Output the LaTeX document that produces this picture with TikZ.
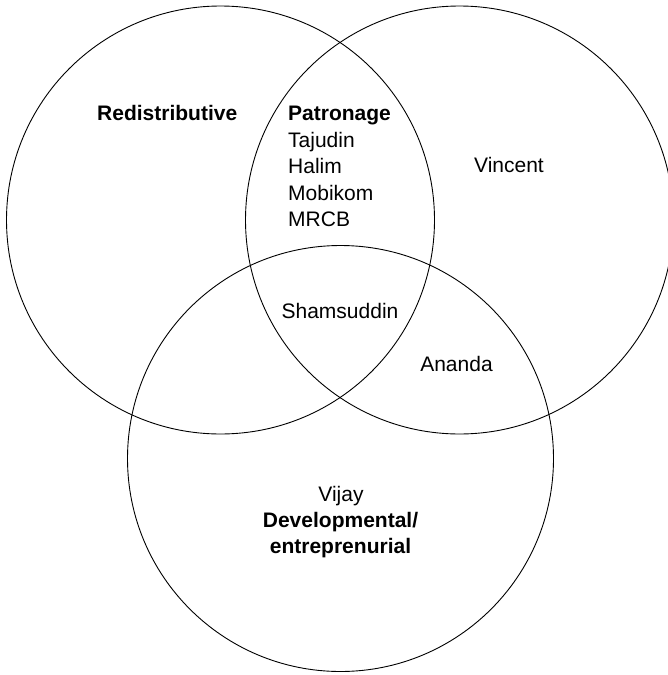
\documentclass[tikz,border=0pt]{standalone}
\usepackage{fontspec}
\setmainfont{Liberation Sans}
\begin{document}
\begin{tikzpicture}[x=1pt,y=-1pt,
  ring/.style={circle,draw,line width=0.9pt,minimum size=428pt,inner sep=0pt},
  lbl/.style={font=\fontsize{21}{26}\selectfont,inner sep=0pt},
  blbl/.style={font=\fontsize{21}{26}\selectfont\bfseries,inner sep=0pt}]
\useasboundingbox (0,0) rectangle (668,675);
\node[ring] (L) at (220.5,220) {};
\node[ring] (R) at (459.5,220) {};
\node[ring,minimum size=426pt] (B) at (340.5,458.5) {};
\node[blbl,anchor=base west] (redis) at (97,120.5) {Redistributive};
\node[blbl,anchor=base west] (patr) at (288,120.5) {Patronage};
\node[lbl,anchor=base west] (taj) at (288,147) {Tajudin};
\node[lbl,anchor=base west] (hal) at (288,173.5) {Halim};
\node[lbl,anchor=base west] (mob) at (288,200) {Mobikom};
\node[lbl,anchor=base west] (mrcb) at (288,226.5) {MRCB};
\node[lbl,anchor=base] (vin) at (509,172.8) {Vincent};
\node[lbl,anchor=base] (sham) at (340,318.5) {Shamsuddin};
\node[lbl,anchor=base] (anan) at (456.5,371) {Ananda};
\node[lbl,anchor=base] (vij) at (341,501) {Vijay};
\node[blbl,anchor=base] (dev) at (340.5,527) {Developmental/};
\node[blbl,anchor=base] (ent) at (340.5,553) {entreprenurial};
\end{tikzpicture}
\end{document}
